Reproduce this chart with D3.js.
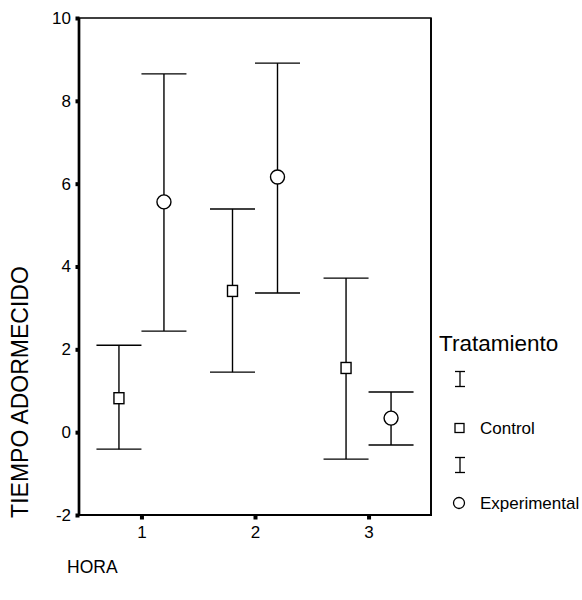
<!DOCTYPE html>
<html>
<head>
<meta charset="utf-8">
<script src="https://cdn.jsdelivr.net/npm/d3@7"></script>
<style>
  body { margin: 0; background: #fff; }
  svg { display: block; font-family: Arial, "Liberation Sans", sans-serif; }
</style>
</head>
<body>
<svg id="chart" width="582" height="600"></svg>
<script>
// Hours on the x axis
const horas = ["1", "2", "3"];
// Treatment groups
const tratamientos = ["Control", "Experimental"];
// Mean and interval bounds per group, one entry per hour
const controlMedia = [0.82, 3.41, 1.55];
const controlInf = [-0.41, 1.45, -0.65];
const controlSup = [2.10, 5.39, 3.72];
const experimentalMedia = [5.56, 6.16, 0.34];
const experimentalInf = [2.44, 3.36, -0.31];
const experimentalSup = [8.65, 8.91, 0.97];
const yTicks = [-2, 0, 2, 4, 6, 8, 10];

const svg = d3.select("#chart");
const plotLeft = 79, plotRight = 431, plotTop = 18, plotBottom = 515;
const font = "Arial, 'Liberation Sans', sans-serif";

const x = d3.scalePoint().domain(horas).range([plotLeft, plotRight]).padding(0.55);
const y = d3.scaleLinear().domain([-2, 10]).range([plotBottom, plotTop]);
const offset = d3.scalePoint().domain(tratamientos).range([-22.5, 22.5]);

// Plot frame
svg.append("rect")
  .attr("x", plotLeft).attr("y", plotTop)
  .attr("width", plotRight - plotLeft).attr("height", plotBottom - plotTop)
  .attr("fill", "none").attr("stroke", "#000").attr("stroke-width", 1.5);
svg.append("line").attr("x1", plotLeft).attr("x2", plotLeft).attr("y1", plotTop).attr("y2", plotBottom + 1)
  .attr("stroke", "#000").attr("stroke-width", 2.7);
svg.append("line").attr("x1", plotLeft).attr("x2", plotRight + 1).attr("y1", plotBottom).attr("y2", plotBottom)
  .attr("stroke", "#000").attr("stroke-width", 2.2);
svg.append("line").attr("x1", plotRight).attr("x2", plotRight).attr("y1", plotTop).attr("y2", plotBottom)
  .attr("stroke", "#000").attr("stroke-width", 1.8);

// Y axis: labels from the axis generator, tick marks as small squares
const yAxis = svg.append("g")
  .attr("transform", `translate(${plotLeft},0)`)
  .call(d3.axisLeft(y).tickValues(yTicks).tickSize(0).tickPadding(8).tickFormat(d => String(d)));
yAxis.select(".domain").remove();
yAxis.selectAll(".tick line").remove();
yAxis.selectAll(".tick").append("rect")
  .attr("x", -3.5).attr("y", -2).attr("width", 4).attr("height", 4).attr("fill", "#000");
yAxis.selectAll(".tick text").attr("font-size", 17).attr("fill", "#000").attr("font-family", font);

// X axis
const xAxis = svg.append("g")
  .attr("transform", `translate(0,${plotBottom})`)
  .call(d3.axisBottom(x).tickSize(0).tickPadding(11));
xAxis.select(".domain").remove();
xAxis.selectAll(".tick line").remove();
xAxis.selectAll(".tick").append("rect")
  .attr("x", -2).attr("y", 0).attr("width", 4).attr("height", 4.5).attr("fill", "#000");
xAxis.selectAll(".tick text").attr("font-size", 17).attr("fill", "#000").attr("font-family", font);

// Error bars with group markers
const groups = [
  { name: "Control", media: controlMedia, inf: controlInf, sup: controlSup, shape: "square" },
  { name: "Experimental", media: experimentalMedia, inf: experimentalInf, sup: experimentalSup, shape: "circle" }
];
const capHalf = 22.5;

groups.forEach(g => {
  const rows = horas.map((h, i) => ({ h, m: g.media[i], lo: g.inf[i], hi: g.sup[i] }));
  const layer = svg.append("g").attr("stroke", "#000").attr("stroke-width", 1.4).attr("fill", "none");
  rows.forEach(r => {
    const cx = x(r.h) + offset(g.name);
    layer.append("line").attr("x1", cx).attr("x2", cx).attr("y1", y(r.hi)).attr("y2", y(r.lo));
    layer.append("line").attr("x1", cx - capHalf).attr("x2", cx + capHalf).attr("y1", y(r.hi)).attr("y2", y(r.hi));
    layer.append("line").attr("x1", cx - capHalf).attr("x2", cx + capHalf).attr("y1", y(r.lo)).attr("y2", y(r.lo));
    if (g.shape === "square") {
      layer.append("rect").attr("x", cx - 5).attr("y", y(r.m) - 5.5).attr("width", 10).attr("height", 11)
        .attr("fill", "#fff");
    } else {
      layer.append("circle").attr("cx", cx).attr("cy", y(r.m)).attr("r", 7).attr("fill", "#fff");
    }
  });
});

// Axis titles
svg.append("text")
  .attr("transform", "translate(28,392) rotate(-90)")
  .attr("text-anchor", "middle").attr("font-size", 23).attr("fill", "#000").attr("font-family", font)
  .text("TIEMPO ADORMECIDO");
svg.append("text")
  .attr("x", 67).attr("y", 573).attr("font-size", 17.5).attr("fill", "#000").attr("font-family", font)
  .text("HORA");

// Legend
const lg = svg.append("g");
lg.append("text").attr("x", 439).attr("y", 351).attr("font-size", 22.5).attr("fill", "#000")
  .attr("font-family", font).text("Tratamiento");
const legendItems = [
  { name: "Control", shape: "square", barY: 379, markY: 428 },
  { name: "Experimental", shape: "circle", barY: 465, markY: 503 }
];
legendItems.forEach(it => {
  const bx = 460;
  const g = lg.append("g").attr("stroke", "#000").attr("stroke-width", 1.3).attr("fill", "none");
  g.append("line").attr("x1", bx).attr("x2", bx).attr("y1", it.barY - 7.5).attr("y2", it.barY + 7.5);
  g.append("line").attr("x1", bx - 5).attr("x2", bx + 5).attr("y1", it.barY - 7.5).attr("y2", it.barY - 7.5);
  g.append("line").attr("x1", bx - 5).attr("x2", bx + 5).attr("y1", it.barY + 7.5).attr("y2", it.barY + 7.5);
  if (it.shape === "square") {
    g.append("rect").attr("x", 455).attr("y", it.markY - 4.5).attr("width", 9).attr("height", 9);
  } else {
    g.append("circle").attr("cx", 459).attr("cy", it.markY).attr("r", 5.5);
  }
  lg.append("text").attr("x", 480).attr("y", it.markY + 6).attr("font-size", 17).attr("fill", "#000")
    .attr("font-family", font).text(it.name);
});
</script>
</body>
</html>
